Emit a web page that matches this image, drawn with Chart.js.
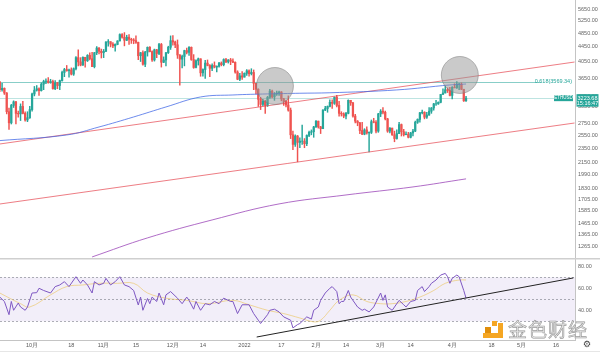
<!DOCTYPE html>
<html>
<head>
<meta charset="utf-8">
<script src="https://cdn.jsdelivr.net/npm/chart.js@4.4.1/dist/chart.umd.min.js"></script>
<style>
  html, body { margin: 0; padding: 0; background: #fff; width: 600px; height: 352px; overflow: hidden; }
  #mainBox { position: absolute; left: 0; top: 0; width: 600px; height: 258px; }
  #rsiBox  { position: absolute; left: 0; top: 258px; width: 600px; height: 94px; }
  #wm { position: absolute; left: 482px; top: 318px; width: 118px; height: 24px; pointer-events: none; }
  #wm .lg { position: absolute; background: #f5a623; }
  #wm .txt {
    position: absolute; left: 26px; top: -3px;
    font-family: "Noto Sans CJK SC", sans-serif; font-size: 19px; letter-spacing: 1px;
    color: #e4e4e4; -webkit-text-stroke: 0.6px #9a9a9a; white-space: nowrap;
  }
  #gear { position: absolute; left: 583px; top: 339px; font: 9px "DejaVu Sans", sans-serif; color: #444; }
</style>
</head>
<body>
<div id="mainBox"><canvas id="mainCanvas"></canvas></div>
<div id="rsiBox"><canvas id="rsiCanvas"></canvas></div>
<div id="wm">
  <div class="lg" style="left:10px;top:3px;width:5px;height:5px"></div>
  <div class="lg" style="left:3px;top:9px;width:6px;height:6px;background:#e08e0b"></div>
  <div class="lg" style="left:16px;top:5px;width:5px;height:15px"></div>
  <div class="lg" style="left:1px;top:15px;width:20px;height:5px"></div>
  <span class="txt">金色财经</span>
</div>
<div id="gear">⚙</div>

<script>
// ── Data (daily candles, idx 0 = 17 Sep 2021) ─────────
const FIRST_OPEN = 3570

const closes = [
  3400, 3430, 3330, 2960, 2760, 3080, 3150, 2930, 2920, 3060, 2930, 2810, 2850, 3000,
  3310, 3390, 3420, 3380, 3520, 3580, 3590, 3560, 3580, 3420, 3550, 3490, 3600, 3790, 3860, 3830,
  3850, 3750, 3880, 4160, 4050, 3970, 4170, 4080, 4220, 4130, 3930, 4290, 4420, 4330, 4290,
  4330, 4590, 4600, 4530, 4480, 4520, 4620, 4810, 4730, 4640, 4730, 4670, 4650, 4630, 4580,
  4210, 4290, 3990, 4310, 4440, 4320, 4100, 4370, 4270, 4520, 4040, 4100, 4290, 4440, 4630,
  4590, 4510, 4230, 4120, 4190, 4350, 4300, 4440, 4110, 3910, 4080, 4130, 3780, 3860, 4020,
  3960, 3890, 3960, 3920, 3940, 4020, 3980, 4110, 4050, 4100, 4070, 4040, 3800, 3630, 3710, 3680,
  3770, 3830, 3760, 3790, 3540, 3410, 3200, 3100, 3160, 3080, 3240, 3370, 3250, 3310, 3330,
  3350, 3210, 3160, 3090, 2990, 2560, 2410, 2540, 2440, 2460, 2460, 2420, 2550, 2600, 2610, 2690,
  2790, 2690, 2660, 2990, 3020, 3060, 3140, 3120, 3240, 3080, 2930, 2920, 2880, 2930,
  3180, 3130, 2880, 2790, 2760, 2630, 2570, 2640, 2590, 2600, 2780, 2770, 2620, 2920,
  2970, 2950, 2830, 2620, 2670, 2560, 2500, 2580, 2730, 2610, 2560, 2570, 2520, 2590, 2620,
  2770, 2820, 2940, 2950, 2860, 2900, 2970, 3030, 3110, 3110, 3140, 3300, 3330, 3400, 3380, 3280,
  3450, 3440, 3520, 3520, 3410, 3170, 3223.68
]

const highs = [
  3580, 3540, 3440, 3340, 3030, 3100, 3170, 3160, 2970, 3110, 3160, 2960, 2960, 3060,
  3330, 3470, 3490, 3440, 3550, 3610, 3640, 3670, 3630, 3610, 3600, 3560, 3610, 3820, 3890, 3960,
  3870, 3900, 3900, 4190, 4370, 4160, 4180, 4170, 4240, 4290, 4300, 4300, 4460, 4430, 4390,
  4380, 4600, 4660, 4600, 4570, 4540, 4630, 4830, 4840, 4870, 4790, 4810, 4700, 4690, 4770,
  4590, 4300, 4340, 4330, 4450, 4460, 4340, 4390, 4380, 4550, 4550, 4180, 4300, 4470, 4770,
  4780, 4620, 4650, 4240, 4230, 4360, 4420, 4460, 4450, 4240, 4100, 4150, 4130, 3880, 4090,
  4100, 3980, 4000, 4050, 3950, 4040, 4050, 4130, 4140, 4110, 4140, 4130, 4050, 3830, 3770, 3810,
  3780, 3860, 3850, 3880, 3850, 3540, 3420, 3240, 3200, 3180, 3260, 3410, 3390, 3340, 3370,
  3370, 3360, 3220, 3180, 3270, 3030, 2620, 2560, 2550, 2510, 2720, 2500, 2560, 2620, 2640, 2700,
  2800, 2790, 2700, 3000, 3060, 3070, 3190, 3190, 3250, 3280, 3160, 2960, 2940, 2950,
  3190, 3180, 3140, 2910, 2800, 2770, 2770, 2660, 2690, 2610, 2810, 2840, 2800, 2930,
  3000, 3040, 2970, 2840, 2680, 2670, 2620, 2640, 2770, 2740, 2650, 2610, 2600, 2600, 2650,
  2790, 2830, 2950, 2990, 2960, 2950, 3040, 3040, 3120, 3180, 3150, 3300, 3420, 3480, 3440, 3450,
  3470, 3530, 3580, 3540, 3550, 3410, 3260
]

const lows = [
  3360, 3370, 3300, 2920, 2650, 2740, 3040, 2740, 2860, 2800, 2920, 2790, 2780, 2840,
  2970, 3270, 3370, 3280, 3370, 3400, 3530, 3540, 3540, 3410, 3400, 3420, 3400, 3590, 3690, 3820,
  3680, 3730, 3720, 3850, 3950, 3950, 3960, 3920, 4060, 4100, 3930, 3900, 4240, 4260, 4150,
  4160, 4320, 4470, 4450, 4430, 4330, 4510, 4620, 4700, 4480, 4630, 4520, 4550, 4540, 4550,
  4110, 4060, 3970, 3930, 4200, 4310, 4060, 4070, 4160, 4240, 3920, 4030, 3950, 4270, 4380,
  4500, 4430, 4140, 3500, 3900, 3950, 4260, 4220, 4090, 3890, 3900, 3970, 3700, 3700, 3650,
  3950, 3690, 3830, 3900, 3800, 3920, 3950, 3950, 4030, 4020, 3980, 4030, 3770, 3620, 3600, 3630,
  3680, 3720, 3700, 3730, 3400, 3310, 3060, 3000, 3070, 2930, 3060, 3220, 3230, 3180, 3280,
  3280, 3170, 3080, 3050, 2970, 2500, 2330, 2380, 2160, 2360, 2410, 2360, 2390, 2530, 2560, 2520,
  2680, 2670, 2580, 2660, 2980, 2950, 3050, 3020, 3100, 3050, 2880, 2880, 2850, 2830,
  2920, 3080, 2860, 2760, 2710, 2580, 2560, 2560, 2570, 2300, 2580, 2760, 2590, 2600,
  2870, 2920, 2810, 2600, 2590, 2550, 2450, 2490, 2580, 2540, 2540, 2560, 2510, 2510, 2540,
  2610, 2750, 2770, 2920, 2830, 2840, 2890, 2930, 2990, 3080, 3100, 3130, 3300, 3330, 3340, 3270,
  3210, 3440, 3430, 3400, 3400, 3160, 3160
]

const FIB_PRICE  = 3569.34
const LAST_PRICE = 3223.68
const COUNTDOWN  = '15:16:47'

// price axis ticks (log scale) and time axis ticks
const priceTicks = [5650, 5250, 4850, 4450, 4050, 3650, 3250, 3050, 2750, 2550, 2350, 2150, 1990, 1830, 1705, 1585, 1465, 1365, 1265]
const dayTicks   = [14, 31, 45, 59, 75, 88, 106, 122, 137, 150, 165, 178, 196, 213, 226, 241]
const dayLabels  = ['10月', '18', '11月', '15', '12月', '14', '2022', '17', '2月', '14', '3月', '14', '4月', '18', '5月', '16']

// moving averages
const maDays  = [0, 29, 43, 58, 72, 87, 101, 116, 130, 143, 172, 195, 202]
const maVals  = [2468, 2557, 2689, 2864, 3050, 3248, 3289, 3311, 3325, 3335, 3395, 3503, 3524]
const ma2Days = [40, 64, 92, 121, 150, 179, 202]
const ma2Vals = [1187, 1338, 1498, 1657, 1753, 1844, 1940]

// channel lines and highlight circles
const upperLine = [[0, 2416], [249, 4047]]
const lowerLine = [[0, 1656], [249, 2757]]
const circleDays   = [119.2, 199.3]
const circlePrices = [3480, 3730]

// RSI pane
const rsiDays = [0,2,4,5,6,8,9,11,12,14,16,17,19,22,24,26,28,30,32,33,35,36,38,40,41,43,45,46,48,50,
  52,54,56,58,60,61,62,64,65,66,68,69,71,72,74,77,79,81,82,84,85,87,89,91,93,95,97,100,101,103,
  105,108,110,112,113,116,117,119,121,123,126,127,129,130,133,135,136,138,139,141,143,144,146,147,148,149,
  151,152,155,157,158,160,162,165,166,167,168,170,171,173,175,176,178,180,181,183,184,186,187,189,
  191,193,194,195,196,198,199,201,202]
const rsiVals = [52,48,36,48,40,46.6,43,40,43,55.7,56,60,58,55.7,61.5,63,66,61.5,67.5,70.5,64.5,67.5,63,55.7,66,63,64.5,69,63,66,
  70.5,63,61.5,58,44.8,52,40,50.7,46,52,48,55.7,45,54,57,51,46,52,49,41,48,40,46,45,48,46,51,48,48,37,
  45,45,37,31,28,36,40,41,38.5,34,31,24,27,28,34,32,40,43,49,55.7,60,61.5,57,46,48,48,
  58,52,43,40,41,38.5,43,55.7,49,54,43,40,43,49,45,43,48,49,58,61.5,57,61.5,64.5,67.5,
  72,73.5,70.5,64.5,69,72,70.5,58,51]
const rsiMaDays = [0,9,13,22,29,36,43,51,58,64,72,81,90,101,108,116,123,130,136,139,143,147,153,159,165,170,176,182,188,193,199,202]
const rsiMaVals = [55.7,46,43,54,61.5,63,64.5,64.5,64.5,55.7,51,49,46,49,45,40,37,33,29.5,31,40,49,54,48,46,46,48,52,58,64.5,67.5,67.5]
const rsiTrend = [[111.3, 15.7], [248.5, 69.4]]

// ── Style ─────────────────────────────────────────────
const UP = '#26a69a'
const DOWN = '#ef5350'
const TICK_FONT = { family: '"Liberation Sans", Arial, sans-serif', size: 5.5 }
const X_MIN = 0.1
const X_MAX = 249.2
const AXIS_W = 25
const NO_GRID = { display: false, drawTicks: false }

const opens = closes.map((c, i) => i === 0 ? FIRST_OPEN : closes[i - 1])
const candleColor = ctx => closes[ctx.dataIndex] >= opens[ctx.dataIndex] ? UP : DOWN
const pts = (xs, ys) => xs.map((x, i) => ({ x, y: ys[i] }))
const seg = arr => arr.map(p => ({ x: p[0], y: p[1] }))

// keep the plot area flush with the canvas edges
function fitY(s) { s.width = AXIS_W; s.paddingTop = 0; s.paddingBottom = 0 }
function fitX(s) { s.height = 12; s.paddingLeft = 0; s.paddingRight = 0 }

function hLine(ctx, x0, x1, y, color, dash) {
  ctx.save()
  ctx.strokeStyle = color
  ctx.lineWidth = 1
  if (dash) ctx.setLineDash(dash)
  ctx.beginPath()
  ctx.moveTo(x0, Math.round(y) + 0.5)
  ctx.lineTo(x1, Math.round(y) + 0.5)
  ctx.stroke()
  ctx.restore()
}

// ── Price pane ────────────────────────────────────────
const priceOverlay = {
  id: 'priceOverlay',
  beforeDatasetsDraw(chart) {
    const { ctx, chartArea: a, scales: { y } } = chart
    hLine(ctx, a.left, a.right - 34, y.getPixelForValue(FIB_PRICE), 'rgba(38,166,154,0.55)')
    hLine(ctx, a.left, a.right - 21, y.getPixelForValue(LAST_PRICE), 'rgba(38,166,154,0.3)')
  },
  afterDraw(chart) {
    const { ctx, chartArea: a, scales: { y } } = chart
    const yf = y.getPixelForValue(FIB_PRICE)
    const yl = y.getPixelForValue(LAST_PRICE)
    ctx.save()
    ctx.font = '5.5px "Liberation Sans", Arial, sans-serif'
    ctx.textBaseline = 'middle'
    ctx.textAlign = 'right'
    ctx.fillStyle = '#26a69a'
    ctx.fillText('0.618(' + FIB_PRICE.toFixed(2) + ')', a.right - 3, yf)

    ctx.fillStyle = UP
    ctx.fillRect(a.right - 21, yl - 3, 19, 6)
    ctx.fillRect(a.right + 1.5, yl - 4, 22, 12.5)
    ctx.fillStyle = '#fff'
    ctx.textAlign = 'center'
    ctx.font = '4.5px "Liberation Sans", Arial, sans-serif'
    ctx.fillText('ETHUSD', a.right - 11.5, yl)
    ctx.font = '5.5px "Liberation Sans", Arial, sans-serif'
    ctx.fillText(LAST_PRICE.toFixed(2), a.right + 12.5, yl + 0.3)
    ctx.fillText(COUNTDOWN, a.right + 12.5, yl + 5.8)
    ctx.restore()
  }
}

new Chart(document.getElementById('mainCanvas'), {
  type: 'bar',
  data: {
    datasets: [
      {
        type: 'bubble',
        data: circleDays.map((x, i) => ({ x, y: circlePrices[i], r: 18.5 })),
        backgroundColor: 'rgba(150,150,150,0.5)',
        borderColor: 'rgba(120,120,120,0.5)',
        borderWidth: 1,
        order: 0
      },
      { type: 'line', data: pts(maDays, maVals), borderColor: 'rgba(60,100,230,0.75)', borderWidth: 1, pointRadius: 0, tension: 0.4, order: 1 },
      { type: 'line', data: pts(ma2Days, ma2Vals), borderColor: 'rgba(150,60,180,0.75)', borderWidth: 1, pointRadius: 0, tension: 0.4, order: 1 },
      { type: 'line', data: seg(upperLine), borderColor: 'rgba(230,70,80,0.7)', borderWidth: 1, pointRadius: 0, order: 1 },
      { type: 'line', data: seg(lowerLine), borderColor: 'rgba(230,70,80,0.7)', borderWidth: 1, pointRadius: 0, order: 1 },
      {
        data: closes.map((c, i) => ({ x: i, y: [opens[i], c] })),
        backgroundColor: candleColor,
        barThickness: 1.6,
        grouped: false,
        order: 2
      },
      {
        data: closes.map((c, i) => ({ x: i, y: [lows[i], highs[i]] })),
        backgroundColor: candleColor,
        barThickness: 0.8,
        grouped: false,
        order: 3
      }
    ]
  },
  options: {
    responsive: true,
    maintainAspectRatio: false,
    animation: false,
    layout: { padding: 0, autoPadding: false },
    plugins: { legend: { display: false }, tooltip: { enabled: false } },
    scales: {
      x: { type: 'linear', display: false, min: X_MIN, max: X_MAX, offset: false },
      y: {
        type: 'logarithmic',
        position: 'right',
        min: 1179,
        max: 5979,
        afterFit: fitY,
        afterBuildTicks: s => { s.ticks = priceTicks.map(v => ({ value: v })) },
        grid: NO_GRID,
        border: { color: '#c4c4c4' },
        ticks: { font: TICK_FONT, color: '#666', padding: 3, callback: v => Number(v).toFixed(2) }
      }
    }
  },
  plugins: [priceOverlay]
})

// ── RSI pane ──────────────────────────────────────────
const rsiOverlay = {
  id: 'rsiOverlay',
  beforeDatasetsDraw(chart) {
    const { ctx, chartArea: a, scales: { y } } = chart
    ctx.save()
    ctx.fillStyle = 'rgba(126,87,194,0.1)'
    ctx.fillRect(a.left, y.getPixelForValue(70), a.right - a.left, y.getPixelForValue(30) - y.getPixelForValue(70))
    ctx.restore()
    ;[70, 50, 30].forEach(v => hLine(ctx, a.left, a.right, y.getPixelForValue(v), 'rgba(120,123,134,0.6)', [2, 2]))
  },
  afterDraw(chart) {
    const { ctx } = chart
    ctx.save()
    ctx.fillStyle = '#cfcfcf'
    ctx.fillRect(0, 0, chart.width, 1.5)
    ctx.fillStyle = '#e6e6e6'
    ctx.fillRect(0, chart.height - 1, chart.width, 1)
    ctx.restore()
  }
}

new Chart(document.getElementById('rsiCanvas'), {
  type: 'line',
  data: {
    datasets: [
      { data: seg(rsiTrend), borderColor: '#222', borderWidth: 1, pointRadius: 0, order: 0 },
      { data: pts(rsiDays, rsiVals), borderColor: '#7e57c2', borderWidth: 1, pointRadius: 0, tension: 0, order: 1 },
      { data: pts(rsiMaDays, rsiMaVals), borderColor: 'rgba(235,195,90,0.6)', borderWidth: 1, pointRadius: 0, tension: 0.4, order: 2 }
    ]
  },
  options: {
    responsive: true,
    maintainAspectRatio: false,
    animation: false,
    layout: { padding: 0, autoPadding: false },
    plugins: { legend: { display: false }, tooltip: { enabled: false } },
    scales: {
      x: {
        type: 'linear',
        min: X_MIN,
        max: X_MAX,
        afterFit: fitX,
        afterBuildTicks: s => { s.ticks = dayTicks.map(v => ({ value: v })) },
        grid: NO_GRID,
        border: { color: '#c4c4c4' },
        ticks: {
          font: TICK_FONT, color: '#555', padding: 2, maxRotation: 0, autoSkip: false,
          callback: v => dayLabels[dayTicks.indexOf(v)]
        }
      },
      y: {
        position: 'right',
        min: 13,
        max: 87.5,
        afterFit: fitY,
        afterBuildTicks: s => { s.ticks = [80, 60, 40].map(v => ({ value: v })) },
        grid: NO_GRID,
        border: { color: '#c4c4c4' },
        ticks: { font: TICK_FONT, color: '#666', padding: 3, callback: v => Number(v).toFixed(2) }
      }
    }
  },
  plugins: [rsiOverlay]
})
</script>
</body>
</html>
